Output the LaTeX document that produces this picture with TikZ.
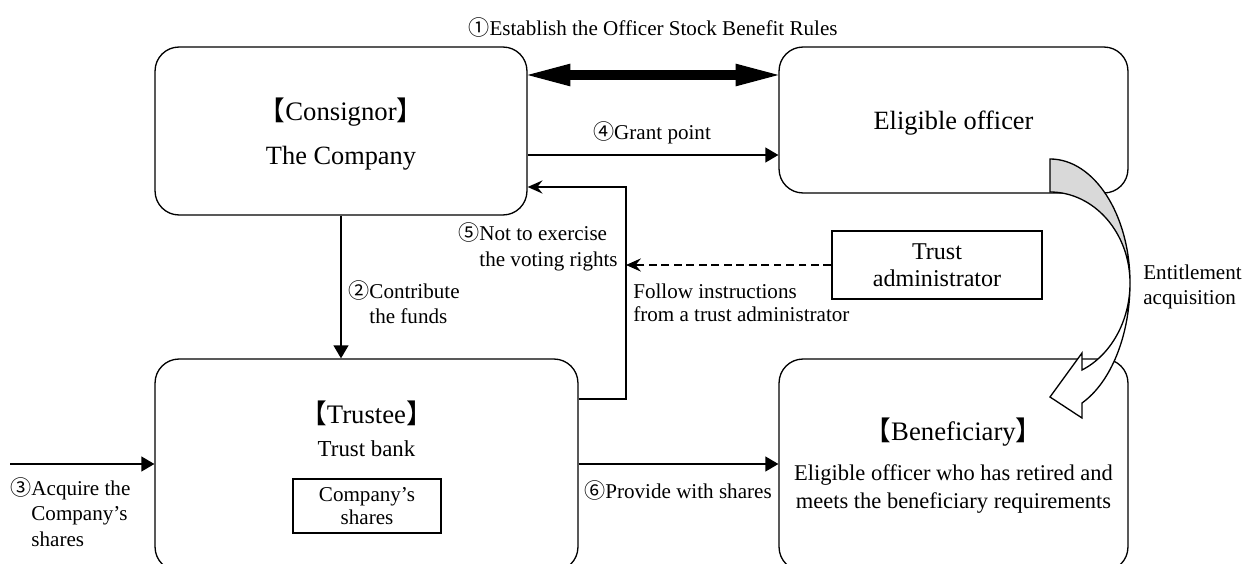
\documentclass[tikz,border=0pt]{standalone}
\usepackage{fontspec}
\setmainfont{Liberation Serif}
\newfontfamily\cjkfont{Noto Sans CJK JP}
\usetikzlibrary{arrows.meta,calc}
\newcommand{\cnum}[1]{{\cjkfont #1}}
\begin{document}
\begin{tikzpicture}[x=0.02cm,y=-0.02cm,
  box/.style={draw, line width=0.75pt, rounded corners=0.48cm, inner sep=0pt},
  sqbox/.style={draw, line width=0.75pt, inner sep=0pt},
  lbl/.style={font=\fontsize{12}{14.5}\selectfont, inner sep=0pt},
  conn/.style={line width=0.75pt, -{Triangle[length=7.4pt,width=8.5pt]}},
  connst/.style={line width=0.75pt, -{Stealth[length=8.5pt,width=7.5pt,inset=3pt]}},
  bigarrow/.style={line width=5.7pt, {Triangle[length=24.4pt,width=13pt,line width=0pt]}-{Triangle[length=24.4pt,width=13pt,line width=0pt]}},
]
\clip (0,0) rectangle (1244,564);

% boxes
\node[box, minimum width=7.44cm, minimum height=3.36cm] (cons) at (341,131) {};
\node[font=\fontsize{15.2}{18}\selectfont, inner sep=0pt] (constitle) at (341,112) {\cnum{【}Consignor\cnum{】}};
\node[font=\fontsize{15}{18}\selectfont, inner sep=0pt] (conscomp) at (341,158) {The Company};
\node[box, minimum width=6.98cm, minimum height=2.92cm] (elig) at (953.5,120) {};
\node[font=\fontsize{15}{18}\selectfont, inner sep=0pt] (eligtext) at (953.5,123) {Eligible officer};
\node[box, minimum width=8.46cm, minimum height=4.24cm] (trustee) at (366.5,465) {};
\node[box, minimum width=6.98cm, minimum height=4.24cm] (benef) at (953.5,465) {};
\node[font=\fontsize{15.2}{18}\selectfont, inner sep=0pt] (trtitle) at (366.5,413) {\cnum{【}Trustee\cnum{】}};
\node[font=\fontsize{13}{15}\selectfont, inner sep=0pt] (trbank) at (366.5,449) {Trust bank};
\node[sqbox, line width=1.2pt, minimum width=2.96cm, minimum height=1.08cm, align=center, font=\fontsize{12}{13}\selectfont] (shares) at (367,506) {Company’s\\shares};
\node[font=\fontsize{15.2}{18}\selectfont, inner sep=0pt] (bentitle) at (953.5,432) {\cnum{【}Beneficiary\cnum{】}};
\node[font=\fontsize{12.8}{15.4}\selectfont, inner sep=0pt, align=center] (benbody) at (953.5,489) {Eligible officer who has retired and\\meets the beneficiary requirements};
\node[sqbox, minimum width=4.2cm, minimum height=1.36cm, align=center, font=\fontsize{13.7}{15.4}\selectfont] (admin) at (937,265) {Trust\\administrator};

% labels
\node[lbl] (l1) at (653,27) {\cnum{①}Establish the Officer Stock Benefit Rules};
\node[lbl] (l4) at (652,133) {\cnum{④}Grant point};
\node[lbl, align=left, anchor=west] (l2) at (348,302) {\cnum{②}Contribute\\\hphantom{\cnum{②}}the funds};
\node[lbl, align=left, anchor=west] (l5) at (458,247) {\cnum{⑤}Not to exercise\\\hphantom{\cnum{⑤}}the voting rights};
\node[lbl, font=\fontsize{12}{13.2}\selectfont, align=left, anchor=west] (lf) at (633,303) {Follow instructions\\from a trust administrator};
\node[lbl, align=left, anchor=west] (l3) at (10,512) {\cnum{③}Acquire the\\\hphantom{\cnum{③}}Company’s\\\hphantom{\cnum{③}}shares};
\node[lbl] (l6) at (678,490) {\cnum{⑥}Provide with shares};
\node[lbl, align=left, anchor=west] (lent) at (1143,287) {Entitlement\\acquisition};

% connectors
\coordinate (c5) at (626,187);
\coordinate (c3) at (10,464);
\draw[bigarrow] (cons.east |- 0,75) -- (elig.west |- 0,75);
\draw[conn] (cons.east |- 0,155) -- (elig.west |- 0,155);
\draw[conn] (cons.south) -- (cons.south |- trustee.north);
\draw[connst] (trustee.east |- 0,399) -| (c5) -- (cons.east |- c5);
\draw[connst, dash pattern=on 4.5pt off 2.6pt] (admin.west) -- (admin.west -| c5);
\draw[conn] (c3) -- (trustee.west |- c3);
\draw[conn] (trustee.east |- c3) -- (benef.west |- c3);

% curved block arrow (entitlement acquisition)
\filldraw[fill=black!15, line width=0.75pt] (1050,159) .. controls (1094,159) and (1130,214.5) .. (1130,283) .. controls (1130,232.7) and (1094,192) .. (1050,192) -- cycle;
\filldraw[fill=white, line width=0.75pt, line join=miter] (1130,283) .. controls (1130,320.8) and (1111.1,355) .. (1082,370) -- (1082,353) -- (1050,397) -- (1082,418) -- (1082,403) .. controls (1111.1,382.2) and (1130,335.1) .. (1130,283) -- cycle;
\end{tikzpicture}
\end{document}
